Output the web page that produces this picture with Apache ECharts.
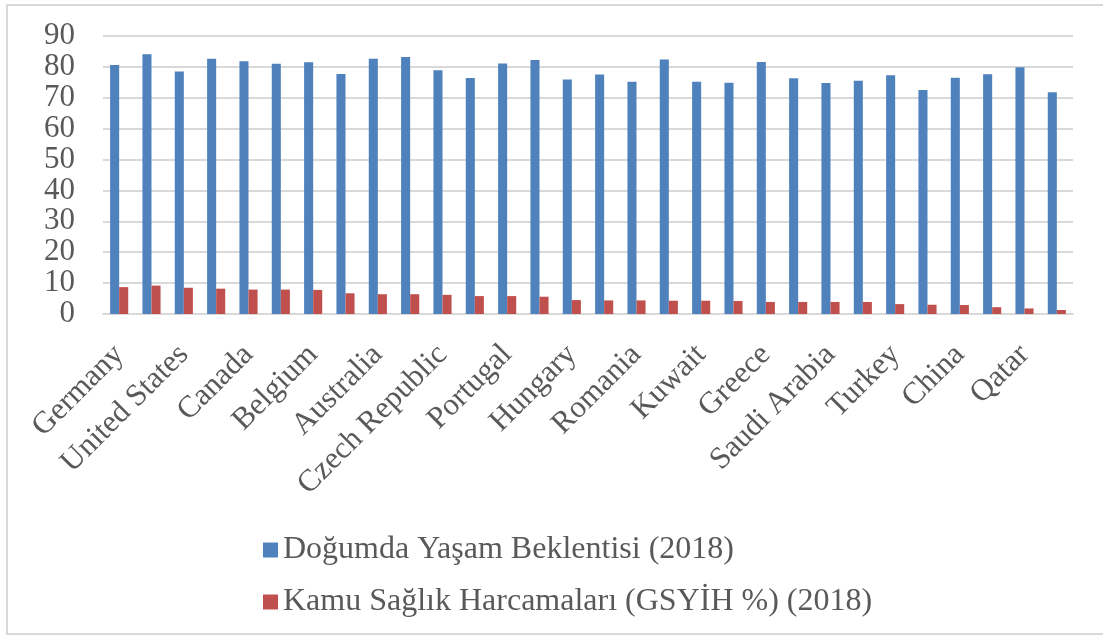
<!DOCTYPE html>
<html>
<head>
<meta charset="utf-8">
<script src="https://cdn.jsdelivr.net/npm/echarts@6/dist/echarts.min.js"></script>
<style>
  html, body { margin: 0; padding: 0; background: #fff; }
  #frame { position: absolute; left: 6px; top: 4px; width: 1097px; height: 627px;
           border: 2px solid #d9d9d9; border-right: none; }
  #chart { position: absolute; left: 0; top: 0; width: 1103px; height: 635px; }
</style>
</head>
<body>
<div id="frame"></div>
<div id="chart"></div>
<script>
// countries, every other one is labelled on the axis
const countries = [
  'Germany', 'Japan', 'United States', 'France', 'Canada', 'United Kingdom',
  'Belgium', 'Croatia', 'Australia', 'Italy', 'Czech Republic', 'Argentina',
  'Portugal', 'Israel', 'Hungary', 'Poland', 'Romania', 'Korea',
  'Kuwait', 'Bulgaria', 'Greece', 'Brazil', 'Saudi Arabia', 'Mexico',
  'Turkey', 'Indonesia', 'China', 'United Arab Emirates', 'Qatar', 'India'
];

const lifeExpectancy = [
  80.6, 84.1, 78.5, 82.6, 81.8, 81.0, 81.5, 77.7, 82.6, 83.2,
  78.9, 76.4, 81.1, 82.2, 75.9, 77.5, 75.2, 82.4, 75.2, 74.9,
  81.6, 76.3, 74.8, 75.5, 77.3, 72.5, 76.5, 77.6, 79.9, 71.8
];

const healthSpending = [
  8.7, 9.2, 8.5, 8.2, 7.9, 7.9, 7.8, 6.7, 6.4, 6.4,
  6.2, 5.8, 5.8, 5.6, 4.5, 4.4, 4.4, 4.3, 4.3, 4.2,
  3.9, 3.9, 3.9, 3.9, 3.2, 3.0, 2.9, 2.2, 1.8, 1.3
];

const seriesNames = [
  'Doğumda Yaşam Beklentisi (2018)',
  'Kamu Sağlık Harcamaları (GSYİH %) (2018)'
];

const chart = echarts.init(document.getElementById('chart'));
const serif = 'Liberation Serif';

const option = {
  animation: false,
  textStyle: { fontFamily: serif },
  grid: { left: 103, right: 30, top: 36, bottom: 321 },
  legend: {
    orient: 'vertical',
    left: 258,
    top: 529,
    itemWidth: 15,
    itemHeight: 15,
    itemGap: 20,
    icon: 'rect',
    textStyle: { fontFamily: serif, fontSize: 32, color: '#595959' },
    data: seriesNames
  },
  xAxis: {
    type: 'category',
    data: countries,
    axisTick: { show: false },
    axisLine: { lineStyle: { color: '#d9d9d9', width: 2 } },
    axisLabel: {
      interval: 1,
      rotate: 45,
      margin: 36,
      fontSize: 31,
      color: '#595959',
      fontFamily: serif
    }
  },
  yAxis: {
    type: 'value',
    min: 0,
    max: 90,
    interval: 10,
    axisLine: { show: false },
    axisTick: { show: false },
    splitLine: { lineStyle: { color: '#d9d9d9', width: 2 } },
    axisLabel: { fontSize: 31, color: '#595959', margin: 28, fontFamily: serif }
  },
  series: [
    {
      name: seriesNames[0],
      type: 'bar',
      data: lifeExpectancy,
      barGap: '0%',
      barCategoryGap: '44%',
      itemStyle: { color: '#4f81bd' }
    },
    {
      name: seriesNames[1],
      type: 'bar',
      data: healthSpending,
      itemStyle: { color: '#c0504d' }
    }
  ]
};

chart.setOption(option);
</script>
</body>
</html>
